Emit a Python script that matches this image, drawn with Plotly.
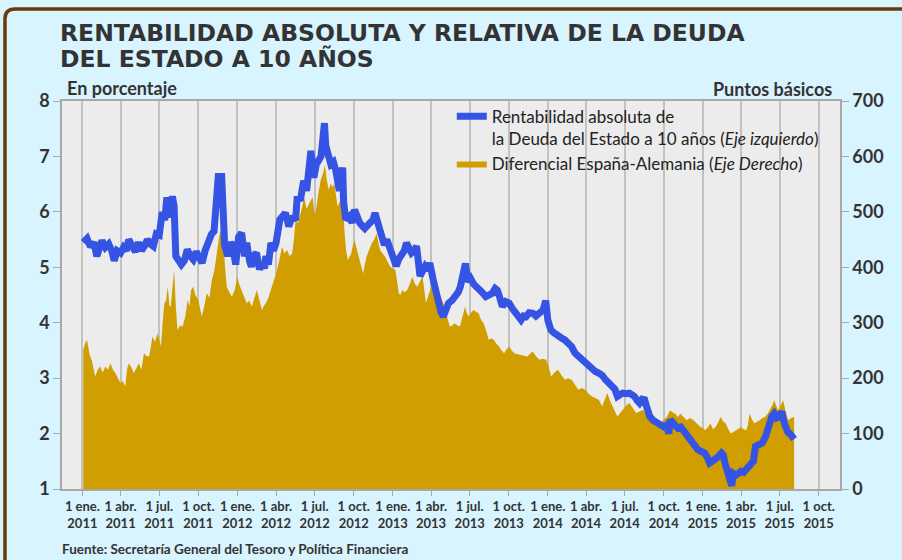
import plotly.graph_objects as go

# ---------------- DATA ----------------
yield_dates = [
    "2011-01-03","2011-01-12","2011-01-20","2011-01-28","2011-02-04","2011-02-10","2011-02-16","2011-02-24",
    "2011-03-04","2011-03-11","2011-03-17","2011-03-24","2011-04-01","2011-04-08","2011-04-15","2011-04-20",
    "2011-04-28","2011-05-06","2011-05-13","2011-05-20","2011-05-27","2011-06-03","2011-06-10","2011-06-17",
    "2011-06-24","2011-07-01","2011-07-08","2011-07-14","2011-07-19","2011-07-25","2011-08-01","2011-08-05",
    "2011-08-09","2011-08-15","2011-08-22","2011-08-29","2011-09-05","2011-09-12","2011-09-19","2011-09-26",
    "2011-10-03","2011-10-10","2011-10-17","2011-10-25","2011-11-01","2011-11-07","2011-11-10","2011-11-14",
    "2011-11-17","2011-11-25","2011-11-29","2011-12-02","2011-12-09","2011-12-16","2011-12-21","2011-12-28",
    "2012-01-04","2012-01-11","2012-01-18","2012-01-23","2012-01-30","2012-02-03","2012-02-08","2012-02-15",
    "2012-02-22","2012-02-28","2012-03-05","2012-03-08","2012-03-14","2012-03-20","2012-03-26","2012-04-01",
    "2012-04-10","2012-04-16","2012-04-23","2012-05-01","2012-05-09","2012-05-17","2012-05-21","2012-05-28",
    "2012-06-05","2012-06-12","2012-06-18","2012-06-22","2012-06-29","2012-07-05","2012-07-12","2012-07-16",
    "2012-07-20","2012-07-24","2012-07-27","2012-08-01","2012-08-08","2012-08-14","2012-08-20","2012-08-28",
    "2012-09-05","2012-09-07","2012-09-12","2012-09-21","2012-09-27","2012-10-03","2012-10-09","2012-10-15",
    "2012-10-22","2012-10-27","2012-11-08","2012-11-15","2012-11-20","2012-11-27","2012-12-06","2012-12-12",
    "2012-12-18","2012-12-26","2013-01-01","2013-01-09","2013-01-15","2013-01-21","2013-01-28","2013-02-02",
    "2013-02-08","2013-02-14","2013-02-20","2013-02-26","2013-03-06","2013-03-12","2013-03-18","2013-03-25",
    "2013-03-29","2013-04-06","2013-04-12","2013-04-18","2013-04-24","2013-04-30","2013-05-06","2013-05-12",
    "2013-05-20","2013-05-28","2013-06-04","2013-06-09","2013-06-14","2013-06-21","2013-06-27","2013-07-03",
    "2013-07-10","2013-07-23","2013-07-30","2013-08-08","2013-08-16","2013-08-23","2013-08-30","2013-09-04",
    "2013-09-10","2013-09-16","2013-09-24","2013-10-02","2013-10-10","2013-10-18","2013-10-25","2013-10-30",
    "2013-11-05","2013-11-11","2013-11-18","2013-11-27","2013-12-04","2013-12-09","2013-12-16","2013-12-21",
    "2013-12-27","2014-01-01","2014-01-08","2014-01-15","2014-01-25","2014-02-03","2014-02-10","2014-02-18",
    "2014-02-26","2014-03-06","2014-03-14","2014-03-22","2014-03-30","2014-04-07","2014-04-15","2014-04-23",
    "2014-05-01","2014-05-09","2014-05-17","2014-05-25","2014-06-02","2014-06-08","2014-06-14","2014-06-20",
    "2014-06-26","2014-07-04","2014-07-12","2014-07-18","2014-07-24","2014-07-30","2014-08-05","2014-08-11",
    "2014-08-17","2014-08-23","2014-08-29","2014-09-06","2014-09-14","2014-09-22","2014-10-01","2014-10-07",
    "2014-10-13","2014-10-16","2014-10-25","2014-11-03","2014-11-10","2014-11-16","2014-11-22","2014-11-28",
    "2014-12-04","2014-12-12","2014-12-20","2014-12-27","2015-01-05","2015-01-11","2015-01-17","2015-01-23",
    "2015-01-29","2015-02-06","2015-02-14","2015-02-18","2015-02-22","2015-03-01","2015-03-06","2015-03-10",
    "2015-03-14","2015-03-20","2015-03-26","2015-04-01","2015-04-07","2015-04-13","2015-04-19","2015-04-27",
    "2015-04-30","2015-05-05","2015-05-13","2015-05-21","2015-05-29","2015-06-06","2015-06-12","2015-06-18",
    "2015-06-24","2015-06-30","2015-07-06","2015-07-12","2015-07-16","2015-07-20","2015-07-27","2015-08-01",
    "2015-08-04",
]
yield_values = [
    5.45,5.52,5.37,5.45,5.20,5.40,5.48,5.36,
    5.42,5.30,5.12,5.30,5.26,5.36,5.30,5.50,
    5.38,5.28,5.45,5.30,5.38,5.50,5.42,5.38,
    5.60,5.58,6.00,5.85,6.26,5.90,6.28,6.10,
    5.20,5.10,5.05,5.12,5.32,5.20,5.14,5.28,
    5.20,5.08,5.30,5.50,5.60,5.65,6.10,6.35,
    6.64,6.64,6.00,5.40,5.20,5.45,5.38,5.05,
    5.55,5.62,5.20,5.44,5.10,5.01,5.20,5.26,
    4.96,5.08,4.98,5.20,5.05,5.44,5.30,5.44,
    5.86,5.90,5.98,5.74,5.92,5.85,6.28,6.20,
    6.56,6.38,6.88,7.10,6.62,6.86,6.95,7.00,
    7.30,7.60,7.20,7.05,6.86,6.90,6.74,6.38,
    6.80,6.20,5.86,5.92,5.80,6.04,5.90,5.80,
    5.74,5.70,5.80,5.85,5.98,5.80,5.50,5.40,
    5.50,5.32,5.26,5.02,5.15,5.20,5.30,5.44,
    5.35,5.26,5.30,5.38,4.84,4.95,5.02,4.95,
    5.08,4.78,4.55,4.29,4.20,4.11,4.25,4.35,
    4.40,4.47,4.55,4.65,4.80,5.07,4.74,4.80,
    4.70,4.62,4.55,4.47,4.50,4.53,4.62,4.59,
    4.45,4.29,4.38,4.35,4.25,4.17,4.10,4.05,
    4.12,4.11,4.18,4.17,4.12,4.17,4.20,4.23,
    4.40,4.05,3.87,3.82,3.75,3.72,3.69,3.62,
    3.57,3.45,3.39,3.32,3.27,3.20,3.15,3.12,
    3.09,3.05,2.97,2.92,2.85,2.80,2.67,2.70,
    2.73,2.72,2.73,2.70,2.67,2.60,2.55,2.62,
    2.61,2.45,2.31,2.24,2.19,2.18,2.12,2.15,
    2.00,2.25,2.18,2.10,2.12,2.05,2.00,1.95,
    1.88,1.78,1.71,1.68,1.65,1.58,1.47,1.50,
    1.53,1.58,1.65,1.62,1.47,1.30,1.16,1.06,
    1.28,1.25,1.28,1.32,1.30,1.35,1.40,1.47,
    1.50,1.77,1.80,1.83,1.95,2.18,2.30,2.36,
    2.28,2.30,2.40,2.18,2.10,2.03,1.98,1.94,
    1.90,
]

spread_dates = [
    "2011-01-03","2011-01-07","2011-01-12","2011-01-18","2011-01-24","2011-01-31","2011-02-06","2011-02-12",
    "2011-02-18","2011-02-24","2011-03-02","2011-03-08","2011-03-14","2011-03-20","2011-03-26","2011-04-01",
    "2011-04-06","2011-04-12","2011-04-16","2011-04-20","2011-04-26","2011-05-02","2011-05-08","2011-05-14",
    "2011-05-20","2011-05-26","2011-06-01","2011-06-07","2011-06-11","2011-06-15","2011-06-21","2011-06-27",
    "2011-07-01","2011-07-05","2011-07-09","2011-07-13","2011-07-17","2011-07-21","2011-07-25","2011-07-28",
    "2011-08-02","2011-08-05","2011-08-09","2011-08-13","2011-08-19","2011-08-25","2011-08-31","2011-09-06",
    "2011-09-10","2011-09-14","2011-09-19","2011-09-24","2011-10-01","2011-10-05","2011-10-09","2011-10-15",
    "2011-10-21","2011-10-27","2011-11-02","2011-11-08","2011-11-14","2011-11-18","2011-11-22","2011-11-26",
    "2011-11-29","2011-12-03","2011-12-07","2011-12-13","2011-12-19","2011-12-26","2012-01-01","2012-01-05",
    "2012-01-11","2012-01-17","2012-01-23","2012-01-29","2012-02-04","2012-02-10","2012-02-16","2012-02-22",
    "2012-02-28","2012-03-03","2012-03-08","2012-03-14","2012-03-20","2012-03-26","2012-04-01","2012-04-08",
    "2012-04-15","2012-04-21","2012-04-27","2012-05-03","2012-05-09","2012-05-13","2012-05-17","2012-05-23",
    "2012-05-29","2012-06-02","2012-06-06","2012-06-12","2012-06-18","2012-06-22","2012-06-26","2012-06-30",
    "2012-07-03","2012-07-09","2012-07-15","2012-07-21","2012-07-25","2012-07-29","2012-08-03","2012-08-08",
    "2012-08-12","2012-08-16","2012-08-20","2012-08-24","2012-08-30","2012-09-05","2012-09-09","2012-09-13",
    "2012-09-17","2012-09-21","2012-09-25","2012-09-29","2012-10-03","2012-10-09","2012-10-15","2012-10-19",
    "2012-10-23","2012-10-31","2012-11-06","2012-11-12","2012-11-18","2012-11-24","2012-11-28","2012-12-02",
    "2012-12-08","2012-12-14","2012-12-20","2012-12-26","2013-01-01","2013-01-07","2013-01-11","2013-01-15",
    "2013-01-19","2013-01-23","2013-01-29","2013-02-04","2013-02-10","2013-02-16","2013-02-22","2013-02-28",
    "2013-03-06","2013-03-12","2013-03-16","2013-03-20","2013-03-26","2013-04-01","2013-04-05","2013-04-09",
    "2013-04-15","2013-04-21","2013-04-27","2013-05-03","2013-05-09","2013-05-15","2013-05-21","2013-05-27",
    "2013-06-02","2013-06-08","2013-06-12","2013-06-16","2013-06-20","2013-06-24","2013-06-28","2013-07-04",
    "2013-07-10","2013-07-16","2013-07-22","2013-07-28","2013-08-03","2013-08-09","2013-08-15","2013-08-21",
    "2013-08-27","2013-09-02","2013-09-08","2013-09-14","2013-09-20","2013-09-26","2013-10-02","2013-10-08",
    "2013-10-14","2013-10-22","2013-10-30","2013-11-07","2013-11-14","2013-11-20","2013-11-26","2013-12-04",
    "2013-12-12","2013-12-20","2013-12-28","2014-01-03","2014-01-09","2014-01-17","2014-01-25","2014-02-02",
    "2014-02-10","2014-02-18","2014-02-26","2014-03-06","2014-03-14","2014-03-22","2014-03-30","2014-04-07",
    "2014-04-15","2014-04-23","2014-05-01","2014-05-09","2014-05-15","2014-05-21","2014-05-27","2014-06-02",
    "2014-06-08","2014-06-14","2014-06-20","2014-06-26","2014-07-04","2014-07-12","2014-07-20","2014-07-28",
    "2014-08-05","2014-08-13","2014-08-21","2014-08-29","2014-09-06","2014-09-14","2014-09-22","2014-10-01",
    "2014-10-08","2014-10-16","2014-10-22","2014-10-28","2014-11-03","2014-11-09","2014-11-16","2014-11-24",
    "2014-12-02","2014-12-10","2014-12-18","2014-12-26","2015-01-01","2015-01-07","2015-01-13","2015-01-19",
    "2015-01-25","2015-01-31","2015-02-06","2015-02-12","2015-02-18","2015-02-24","2015-03-02","2015-03-08",
    "2015-03-14","2015-03-20","2015-03-26","2015-04-01","2015-04-07","2015-04-13","2015-04-17","2015-04-21",
    "2015-04-27","2015-05-03","2015-05-09","2015-05-15","2015-05-21","2015-05-27","2015-06-02","2015-06-08",
    "2015-06-13","2015-06-18","2015-06-23","2015-06-27","2015-07-03","2015-07-09","2015-07-15","2015-07-21",
    "2015-07-28","2015-08-04",
]
spread_values = [
    251,262,269,242,230,203,215,221,
    210,221,215,227,215,209,200,191,
    195,185,215,227,220,209,218,227,
    215,245,240,239,255,275,265,281,
    270,257,300,335,340,365,330,329,
    370,395,330,287,295,293,310,341,
    330,359,365,350,341,325,311,330,
    353,345,377,395,431,450,467,455,
    443,400,365,355,347,360,383,370,
    359,345,335,340,329,345,359,340,
    323,330,335,345,359,375,389,410,
    437,425,431,420,425,450,485,480,
    497,510,527,505,515,520,527,500,
    497,530,557,570,585,560,540,551,
    545,551,530,509,520,527,467,430,
    413,420,425,440,449,430,413,400,
    389,419,430,443,450,461,445,431,
    425,419,410,401,398,395,375,353,
    350,359,355,359,370,383,370,365,
    375,383,360,335,350,365,372,377,
    365,353,340,329,310,293,295,299,
    295,293,305,315,329,318,311,318,
    323,320,317,305,299,285,269,272,
    269,262,257,250,245,252,257,250,
    245,243,242,240,239,244,248,240,
    233,235,233,220,203,210,215,205,
    197,200,197,188,179,182,179,172,
    167,164,161,149,160,173,160,149,
    140,131,137,143,150,155,145,137,
    140,143,133,125,120,113,118,124,
    130,142,138,136,130,136,130,124,
    128,124,118,112,110,106,112,118,
    108,112,120,130,122,118,108,100,
    103,106,110,112,108,106,115,136,
    125,118,122,124,128,130,135,142,
    150,160,150,142,150,160,140,124,
    128,130,
]

tick_dates = [
    "2011-01-01","2011-04-01","2011-07-01","2011-10-01",
    "2012-01-01","2012-04-01","2012-07-01","2012-10-01",
    "2013-01-01","2013-04-01","2013-07-01","2013-10-01",
    "2014-01-01","2014-04-01","2014-07-01","2014-10-01",
    "2015-01-01","2015-04-01","2015-07-01","2015-10-01",
]
tick_labels = [
    "1 ene.<br>2011","1 abr.<br>2011","1 jul.<br>2011","1 oct.<br>2011",
    "1 ene.<br>2012","1 abr.<br>2012","1 jul.<br>2012","1 oct.<br>2012",
    "1 ene.<br>2013","1 abr.<br>2013","1 jul.<br>2013","1 oct.<br>2013",
    "1 ene.<br>2014","1 abr.<br>2014","1 jul.<br>2014","1 oct.<br>2014",
    "1 ene.<br>2015","1 abr.<br>2015","1 jul.<br>2015","1 oct.<br>2015",
]
left_ticks = [1, 2, 3, 4, 5, 6, 7, 8]
right_ticks = [0, 100, 200, 300, 400, 500, 600, 700]

# ---------------- STYLE ----------------
FONT = "Lato"
TITLE_FONT = "DejaVu Sans"
TEXT = "#333333"
BLUE = "#3654e4"
GOLD = "#d09e00"
PAGE_BG = "#d8f4fe"
PLOT_BG = "#ececec"
GRID = "#c2c2c2"
AXIS = "#a8a8a8"
BROWN = "#6b3a0c"

fig = go.Figure()

fig.add_trace(go.Scatter(
    x=spread_dates, y=spread_values, yaxis="y",
    mode="lines", line=dict(width=0, color=GOLD),
    fill="tozeroy", fillcolor=GOLD,
    name="Diferencial España-Alemania (<i>Eje Derecho</i>)",
    legendrank=2,
))
fig.add_trace(go.Scatter(
    x=yield_dates, y=yield_values, yaxis="y2",
    mode="lines", line=dict(width=7, color=BLUE),
    name="Rentabilidad absoluta de<br>la Deuda del Estado a 10 años (<i>Eje izquierdo</i>)",
    legendrank=1,
))

fig.update_layout(
    width=902, height=560,
    margin=dict(l=62, r=62, t=101, b=71, autoexpand=False),
    paper_bgcolor=PAGE_BG, plot_bgcolor=PLOT_BG,
    font=dict(family=FONT, color=TEXT),
    showlegend=True,
    legend=dict(
        x=0.501, y=1.006, xanchor="left", yanchor="top",
        bgcolor="rgba(0,0,0,0)", borderwidth=0,
        font=dict(size=17, color="#222222"),
        valign="top", tracegroupgap=0,
    ),
    xaxis=dict(
        type="date", range=["2010-11-14", "2015-11-20"], automargin=False,
        tickmode="array", tickvals=tick_dates, ticktext=tick_labels,
        tickfont=dict(size=13, weight="bold", color=TEXT),
        ticks="outside", ticklen=5, tickcolor=AXIS, tickwidth=1,
        showgrid=True, gridcolor=GRID, gridwidth=1.5,
        showline=True, linecolor=AXIS, linewidth=1.5, mirror=True,
        zeroline=False,
    ),
    yaxis=dict(
        side="right", range=[0, 700], tickvals=right_ticks, automargin=False,
        tickfont=dict(size=18, weight="bold", color=TEXT),
        ticks="outside", ticklen=7, tickcolor=AXIS,
        showgrid=False, zeroline=False,
        showline=True, linecolor=AXIS, linewidth=1.5,
    ),
    yaxis2=dict(
        side="left", overlaying="y", range=[1, 8], tickvals=left_ticks, automargin=False,
        tickfont=dict(size=18, weight="bold", color=TEXT),
        ticks="outside", ticklen=7, tickcolor=AXIS,
        showgrid=False, zeroline=False,
        showline=True, linecolor=AXIS, linewidth=1.5,
    ),
    annotations=[
        dict(text="RENTABILIDAD ABSOLUTA Y RELATIVA DE LA DEUDA",
             xref="paper", yref="paper", x=-0.004, y=1.1755, xanchor="left", yanchor="middle",
             align="left", showarrow=False, borderpad=0,
             font=dict(size=23.5, weight="bold", color=TEXT, family=TITLE_FONT)),
        dict(text="DEL ESTADO A 10 AÑOS",
             xref="paper", yref="paper", x=-0.004, y=1.1085, xanchor="left", yanchor="middle",
             align="left", showarrow=False, borderpad=0,
             font=dict(size=23.5, weight="bold", color=TEXT, family=TITLE_FONT)),
        dict(text="En porcentaje", xref="paper", yref="paper", x=0.004, y=1.034,
             xanchor="left", yanchor="middle", showarrow=False,
             font=dict(size=18, weight="bold", color=TEXT)),
        dict(text="Puntos básicos", xref="paper", yref="paper", x=0.992, y=1.03,
             xanchor="right", yanchor="middle", showarrow=False,
             font=dict(size=18, weight="bold", color=TEXT)),
        dict(text="Fuente: Secretaría General del Tesoro y Política Financiera",
             xref="paper", yref="paper", x=-0.002, y=-0.155, xanchor="left", yanchor="middle",
             showarrow=False, font=dict(size=13.5, weight="bold", color=TEXT)),
    ],
    shapes=[
        dict(type="path", xref="paper", yref="paper",
             path="M -0.0733,-0.25 L -0.0733,1.2113 Q -0.0733,1.2371 -0.0604,1.2371 L 1.10,1.2371",
             line=dict(color=BROWN, width=3.5), layer="above"),
    ],
)

fig.write_html(
    "out.html",
    config={"displayModeBar": False},
    post_script="document.body.style.margin='0px';document.body.style.overflow='hidden';",
)
